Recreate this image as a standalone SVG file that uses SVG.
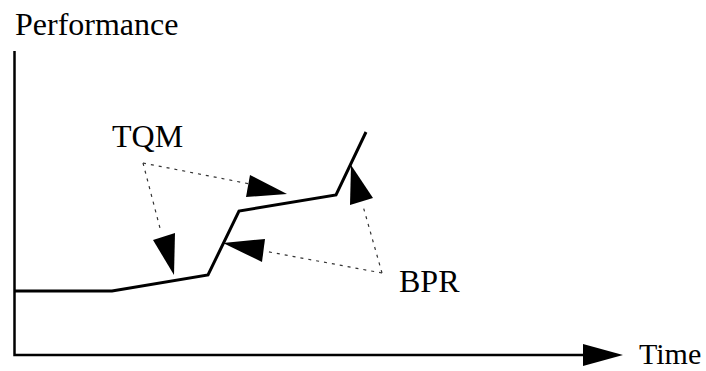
<svg xmlns="http://www.w3.org/2000/svg" width="706" height="371" viewBox="0 0 706 371">
<style>
text{font-family:"Liberation Serif","Times New Roman",serif;font-size:32px;fill:#000}
.axis{stroke:#000;stroke-width:2.5;fill:none}
.curve{stroke:#000;stroke-width:3;fill:none;stroke-linejoin:miter}
.dash{stroke:#333;stroke-width:1.2;stroke-dasharray:3 5;fill:none}
.head{fill:#000;stroke:none}
</style>
<rect width="706" height="371" fill="#fff"/>
<g id="axes">
<path class="axis" d="M14.5,51 V355 H590"/>
<polygon class="head" points="583,344 623,355 583,366"/>
<text x="15" y="35">Performance</text>
<text x="639" y="364" style="font-size:30px">Time</text>
</g>
<g id="curve">
<path class="curve" d="M15,291 H112 L208,275 L239,211 L336,195 L366,132"/>
</g>
<g id="tqm">
<text x="112" y="147">TQM</text>
</g>
<g id="bpr">
<text x="399" y="292">BPR</text>
</g>
<g id="connectors">
<path class="dash" d="M143,163 L250,184"/>
<polygon class="head" points="250,175 246,197 287,194"/>
<path class="dash" d="M143,163 L161,232"/>
<polygon class="head" points="153,240 175,233 174,275"/>
<path class="dash" d="M382,273 L264,251"/>
<polygon class="head" points="265,239 262,262 223,243"/>
<path class="dash" d="M382,273 L363,206"/>
<polygon class="head" points="350,205 373,198 351,165"/>
</g>
</svg>
